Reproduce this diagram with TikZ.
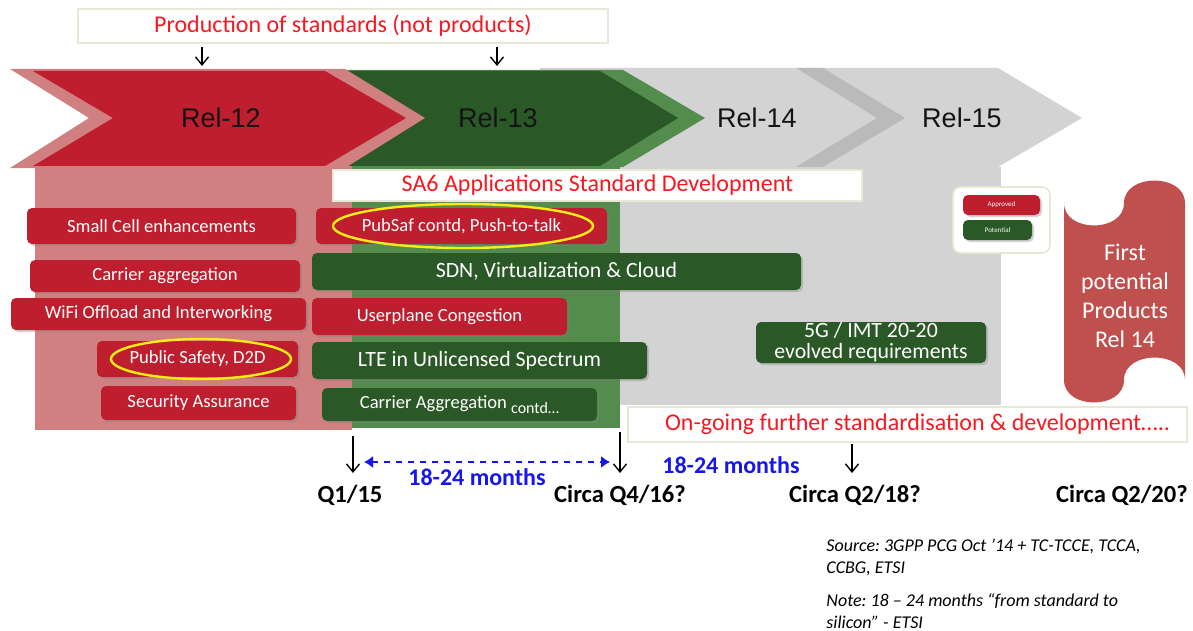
\documentclass[tikz,border=0pt]{standalone}
\usepackage{fontspec}
\setmainfont{Carlito}
\newfontfamily\arialfont{Liberation Sans}
\usetikzlibrary{arrows.meta,shadows,positioning}
\frenchspacing

\definecolor{rdk}{RGB}{190,30,45}
\definecolor{rpl}{RGB}{208,128,128}
\definecolor{gdk}{RGB}{42,88,38}
\definecolor{glt}{RGB}{84,140,78}
\definecolor{gry}{RGB}{211,211,211}
\definecolor{gryd}{RGB}{186,186,186}
\definecolor{scr}{RGB}{192,80,77}
\definecolor{rtxt}{RGB}{248,24,34}
\definecolor{btxt}{RGB}{22,22,235}
\definecolor{bord}{RGB}{232,232,214}
\definecolor{ylw}{RGB}{250,236,20}

\begin{document}
\begin{tikzpicture}[x=0.5pt,y=-0.5pt,
  tagbox/.style={rounded corners=2.5pt, text=white, inner sep=0pt,
    font=\fontsize{9.3}{11}\selectfont,
    drop shadow={shadow xshift=1pt, shadow yshift=-1pt, opacity=0.35}},
  redtag/.style={tagbox, fill=rdk},
  grntag/.style={tagbox, fill=gdk},
  notebox/.style={draw=bord, fill=white, line width=0.6pt, inner sep=0pt,
    text=rtxt, font=\fontsize{12}{14}\selectfont},
  arr/.style={line width=0.7pt, -{Straight Barb[length=4pt,width=6.5pt]}},
  ring/.style={draw=ylw, line width=1.2pt},
  qlabel/.style={font=\bfseries\fontsize{12.3}{14}\selectfont},
  gaplabel/.style={text=btxt, font=\bfseries\fontsize{12}{14}\selectfont},
  rellabel/.style={font=\arialfont\fontsize{13.5}{16}\selectfont, text=black!92}]

\useasboundingbox (0,0) rectangle (1193,631);

\fill[gry] (540,68) -- (998,68) -- (1082,118) -- (998,167) -- (540,167) -- cycle;
\fill[gryd] (796,68) -- (823,68) -- (905,118) -- (823,167) -- (796,167) -- (877,118) -- cycle;
\fill[gry] (600,167) rectangle (1001,405);

\fill[glt] (330,70) -- (623,70) -- (705,118) -- (623,167) -- (330,167) -- cycle;
\fill[gdk] (330,71) -- (600,71) -- (678,118) -- (600,166) -- (330,166) -- cycle;
\fill[glt] (340,166) rectangle (620,428);

\fill[rpl] (10,69) -- (345,69) -- (425,118) -- (345,168) -- (10,168) -- (89,118) -- cycle;
\fill[rdk] (33,71) -- (325,71) -- (406,118) -- (325,166) -- (33,166) -- (113,118) -- cycle;
\fill[rpl] (35,166) rectangle (352,430);

\node[rellabel] (R12) at (221,118) {Rel-12};
\node[rellabel] (R13) at (498,118) {Rel-13};
\node[rellabel] (R14) at (757,118) {Rel-14};
\node[rellabel] (R15) at (962,118) {Rel-15};

\node[notebox, minimum width=265pt, minimum height=17pt] (TB) at (343,26)
  {Production of standards (not products)};
\node[notebox, minimum width=264.5pt, minimum height=15.5pt] (SA) at (597.5,185.5)
  {SA6 Applications Standard Development};

\coordinate (T1) at (202,47); \coordinate (T2) at (202,66);
\coordinate (T3) at (497,47); \coordinate (T4) at (497,66);
\draw[arr] (T1) -- (T2);
\draw[arr] (T3) -- (T4);

\node[redtag, minimum width=134.5pt, minimum height=18pt] (B1) at (161.5,226) {Small Cell enhancements};
\node[redtag, minimum width=135pt, minimum height=16pt] (B2) at (165,276) {Carrier aggregation};
\node[redtag, minimum width=147.5pt, minimum height=16pt] (B3) at (158.5,314) {WiFi Offload and Interworking};
\node[redtag, minimum width=100.5pt, minimum height=18pt] (B4) at (197.5,359) {Public Safety, D2D};
\node[redtag, minimum width=97.5pt, minimum height=17pt] (B5) at (198.5,403) {Security Assurance};

\node[redtag, minimum width=145.5pt, minimum height=18pt] (C1) at (461.5,226) {PubSaf contd, Push-to-talk};
\node[grntag, minimum width=244.5pt, minimum height=18.5pt, font=\fontsize{10.9}{13}\selectfont] (C2) at (556.5,271.5) {SDN, Virtualization \& Cloud};
\node[redtag, minimum width=127.5pt, minimum height=18.5pt] (C3) at (439.5,316.5) {Userplane Congestion};
\node[grntag, minimum width=167.5pt, minimum height=18.5pt, font=\fontsize{10.9}{13}\selectfont] (C4) at (479.5,360.5) {LTE in Unlicensed Spectrum};
\node[grntag, minimum width=137.5pt, minimum height=16.5pt] (C5) at (459.5,404.5)
  {Carrier Aggregation \raisebox{-2.5pt}{\fontsize{8}{9}\selectfont contd\dots}};

\node[grntag, minimum width=115pt, minimum height=20.5pt, align=center, font=\fontsize{10.9}{10.5}\selectfont] (G5) at (871,342.5)
  {5G / IMT 20-20\\evolved requirements};

\draw[ring] (463,226) ellipse [x radius=130, y radius=22];
\draw[ring] (201,359) ellipse [x radius=90, y radius=20];

\node[draw=bord, fill=white, line width=0.8pt, rounded corners=4pt, minimum width=48.5pt, minimum height=33pt] (LG) at (1001.5,220) {};
\node[redtag, minimum width=38.5pt, minimum height=10pt, font=\fontsize{3.5}{4}\selectfont] (LA) at (1001.5,205) {Approved};
\node[grntag, minimum width=34.5pt, minimum height=10pt, font=\fontsize{3.5}{4}\selectfont] (LP) at (997.5,230) {Potential};

\fill[scr] (1064,203) .. controls (1064,233) and (1124,233) .. (1124,203)
  .. controls (1124,173) and (1185,173) .. (1185,203) -- (1185,380)
  .. controls (1185,350) and (1124,350) .. (1124,380)
  .. controls (1124,410) and (1064,410) .. (1064,380) -- cycle;
\node[text=white, align=center, font=\fontsize{12}{14.5}\selectfont] (FP) at (1125,296)
  {First\\potential\\Products\\Rel 14};

\node[notebox, minimum width=279.5pt, minimum height=17.5pt] (OG) at (907.5,424.5)
  {\hspace*{10pt}On-going further standardisation \& development\dots..};

\coordinate (D1) at (353,436); \coordinate (D2) at (353,473);
\coordinate (D3) at (620,432); \coordinate (D4) at (620,473);
\coordinate (D5) at (852,444); \coordinate (D6) at (852,473);
\draw[arr] (D1) -- (D2);
\draw[arr] (D3) -- (D4);
\draw[arr] (D5) -- (D6);
\coordinate (M1) at (364,462); \coordinate (M2) at (610,462);
\draw[btxt, line width=0.7pt, dashed, {Latex[length=4.5pt,width=6pt]}-{Latex[length=4.5pt,width=6pt]}] (M1) -- (M2);

\node[gaplabel] (S1) at (477,477) {18-24 months};
\node[gaplabel] (S2) at (731,465) {18-24 months};

\node[qlabel] (Q1) at (350,495) {Q1/15};
\node[qlabel] (Q2) at (620,495) {Circa Q4/16?};
\node[qlabel] (Q3) at (855,495) {Circa Q2/18?};
\node[qlabel] (Q4) at (1122,495) {Circa Q2/20?};

\node[anchor=north west, align=left, inner sep=0pt, font=\itshape\fontsize{9}{11}\selectfont] (SRC) at (826,539)
  {Source: 3GPP PCG Oct ’14 + TC-TCCE, TCCA,\\CCBG, ETSI};
\node[anchor=north west, align=left, inner sep=0pt, font=\itshape\fontsize{9}{11}\selectfont] (NT) at (826,593)
  {Note: 18 – 24 months “from standard to\\silicon” - ETSI};
\end{tikzpicture}
\end{document}
